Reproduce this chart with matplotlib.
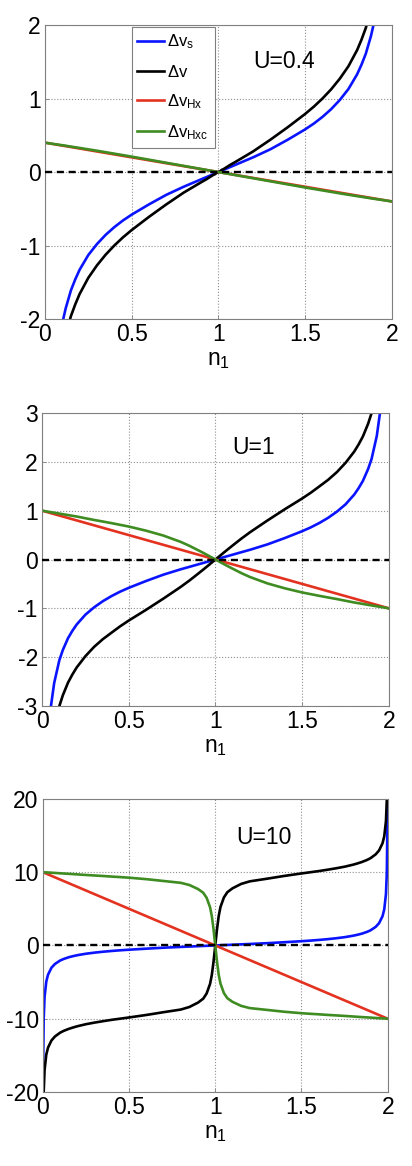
import matplotlib
matplotlib.use("Agg")
import matplotlib.pyplot as plt

plt.rcParams['font.family'] = ['Liberation Sans', 'DejaVu Sans']
plt.rcParams['mathtext.fontset'] = 'custom'
plt.rcParams['mathtext.rm'] = 'Liberation Sans'
plt.rcParams['mathtext.it'] = 'Liberation Sans'

# occupation of site 1 (same grid for every curve)
n1 = [0.001, 0.002, 0.005, 0.01, 0.02, 0.03, 0.05, 0.07, 0.1, 0.12, 0.15, 0.175, 0.2, 0.25, 0.3,
      0.35, 0.4, 0.45, 0.5, 0.6, 0.7, 0.8, 0.85, 0.9, 0.93, 0.95, 0.97, 0.98, 0.99, 0.995, 1.0,
      1.005, 1.01, 1.02, 1.03, 1.05, 1.07, 1.1, 1.15, 1.2, 1.3, 1.4, 1.5, 1.55, 1.6, 1.65, 1.7,
      1.75, 1.8, 1.825, 1.85, 1.88, 1.9, 1.93, 1.95, 1.97, 1.98, 1.99, 1.995, 1.998, 1.999]

# Kohn-Sham potential difference (does not depend on U)
dv_s = [-22.34, -15.79, -9.96, -7.02, -4.92, -3.99, -3.04, -2.53, -2.06, -1.853, -1.61, -1.46, -1.33, -1.13, -0.98,
        -0.855, -0.75, -0.659, -0.58, -0.44, -0.31, -0.20, -0.15, -0.10, -0.07, -0.05, -0.03, -0.02, -0.01, -0.005, 0.0,
        0.005, 0.01, 0.02, 0.03, 0.05, 0.07, 0.10, 0.15, 0.20, 0.31, 0.44, 0.58, 0.659, 0.75, 0.855, 0.98,
        1.13, 1.33, 1.46, 1.61, 1.853, 2.06, 2.53, 3.04, 3.99, 4.92, 7.02, 9.96, 15.79, 22.34]

# U = 0.4
dv_04 = [-22.74, -16.19, -10.36, -7.42, -5.31, -4.38, -3.42, -2.91, -2.43, -2.21, -1.96, -1.80, -1.66, -1.44, -1.27,
         -1.125, -1.00, -0.889, -0.79, -0.61, -0.44, -0.28, -0.21, -0.14, -0.10, -0.07, -0.04, -0.03, -0.01, -0.007, 0.0,
         0.007, 0.01, 0.03, 0.04, 0.07, 0.10, 0.14, 0.21, 0.28, 0.44, 0.61, 0.79, 0.889, 1.00, 1.125, 1.27,
         1.44, 1.66, 1.80, 1.96, 2.21, 2.43, 2.91, 3.42, 4.38, 5.31, 7.42, 10.36, 16.19, 22.74]
dvhxc_04 = [0.4, 0.4, 0.398, 0.396, 0.393, 0.389, 0.382, 0.375, 0.365, 0.358, 0.346, 0.337, 0.328, 0.309, 0.29,
            0.27, 0.25, 0.23, 0.21, 0.168, 0.126, 0.084, 0.063, 0.042, 0.029, 0.021, 0.013, 0.008, 0.004, 0.002, 0.0,
            -0.002, -0.004, -0.008, -0.013, -0.021, -0.029, -0.042, -0.063, -0.084, -0.126, -0.168, -0.21, -0.23, -0.25, -0.27, -0.29,
            -0.309, -0.328, -0.337, -0.346, -0.358, -0.365, -0.375, -0.382, -0.389, -0.393, -0.396, -0.398, -0.4, -0.4]

# U = 1
dv_1 = [-23.3, -16.8, -10.96, -8.01, -5.91, -4.97, -4.01, -3.49, -3.0, -2.78, -2.52, -2.355, -2.21, -1.98, -1.79,
        -1.633, -1.50, -1.369, -1.25, -1.03, -0.80, -0.56, -0.43, -0.29, -0.205, -0.147, -0.088, -0.059, -0.029, -0.015, 0.0,
        0.015, 0.029, 0.059, 0.088, 0.147, 0.205, 0.29, 0.43, 0.56, 0.80, 1.03, 1.25, 1.369, 1.50, 1.633, 1.79,
        1.98, 2.21, 2.355, 2.52, 2.78, 3.0, 3.49, 4.01, 4.97, 5.91, 8.01, 10.96, 16.8, 23.3]
dvhxc_1 = [1.0, 1.0, 0.997, 0.994, 0.988, 0.982, 0.97, 0.958, 0.94, 0.928, 0.91, 0.895, 0.88, 0.845, 0.81,
           0.778, 0.745, 0.71, 0.675, 0.59, 0.49, 0.36, 0.28, 0.19, 0.135, 0.097, 0.058, 0.039, 0.019, 0.01, 0.0,
           -0.01, -0.019, -0.039, -0.058, -0.097, -0.135, -0.19, -0.28, -0.36, -0.49, -0.59, -0.675, -0.71, -0.745, -0.778, -0.81,
           -0.845, -0.88, -0.895, -0.91, -0.928, -0.94, -0.958, -0.97, -0.982, -0.988, -0.994, -0.997, -1.0, -1.0]

# U = 10
dv_10 = [-32.3, -25.8, -19.95, -17.0, -14.89, -13.95, -12.97, -12.43, -11.91, -11.67, -11.39, -11.2, -11.03, -10.75, -10.53,
         -10.335, -10.15, -9.99, -9.83, -9.49, -9.11, -8.75, -8.40, -7.80, -7.27, -6.55, -5.23, -4.02, -2.21, -1.1, 0.0,
         1.1, 2.21, 4.02, 5.23, 6.55, 7.27, 7.80, 8.40, 8.75, 9.11, 9.49, 9.83, 9.99, 10.15, 10.335, 10.53,
         10.75, 11.03, 11.2, 11.39, 11.67, 11.91, 12.43, 12.97, 13.95, 14.89, 17.0, 19.95, 25.8, 32.3]
dvhxc_10 = [10.0, 10.0, 9.99, 9.98, 9.97, 9.96, 9.93, 9.9, 9.85, 9.82, 9.78, 9.74, 9.7, 9.62, 9.55,
            9.48, 9.4, 9.33, 9.25, 9.05, 8.8, 8.55, 8.25, 7.7, 7.2, 6.5, 5.2, 4.0, 2.2, 1.1, 0.0,
            -1.1, -2.2, -4.0, -5.2, -6.5, -7.2, -7.7, -8.25, -8.55, -8.8, -9.05, -9.25, -9.33, -9.4, -9.48, -9.55,
            -9.62, -9.7, -9.74, -9.78, -9.82, -9.85, -9.9, -9.93, -9.96, -9.97, -9.98, -9.99, -10.0, -10.0]

# Hartree-exchange: straight line between the end points
hx_x = [0, 2]
hx_04 = [0.4, -0.4]
hx_1 = [1, -1]
hx_10 = [10, -10]

U_labels = ['U=0.4', 'U=1', 'U=10']
ylims = [(-2, 2), (-3, 3), (-20, 20)]
yticks = [[-2, -1, 0, 1, 2], [-3, -2, -1, 0, 1, 2, 3], [-20, -10, 0, 10, 20]]
xticks = [0, 0.5, 1, 1.5, 2]
xticklabels = ['0', '0.5', '1', '1.5', '2']

c_blue = '#0a14ff'
c_black = 'k'
c_red = '#e3321f'
c_green = '#3f8c22'

fig = plt.figure(figsize=(4.12, 11.66), dpi=100)
rects = [[0.109, 0.7264, 0.842, 0.2521],
         [0.102, 0.3945, 0.842, 0.2513],
         [0.104, 0.0635, 0.837, 0.2513]]
pos_text = [(1.38, 1.5), (1.22, 2.3), (1.28, 14.8)]

data = [(dv_04, hx_04, dvhxc_04), (dv_1, hx_1, dvhxc_1), (dv_10, hx_10, dvhxc_10)]

for i in range(3):
    ax = fig.add_axes(rects[i])
    dv, hx, hxc = data[i]
    ax.plot(n1, dv_s, color=c_blue, lw=1.9, label=r'$\Delta$v$_\mathrm{s}$')
    ax.plot(n1, dv, color=c_black, lw=1.9, label=r'$\Delta$v')
    ax.plot(hx_x, hx, color=c_red, lw=1.9, label=r'$\Delta$v$_\mathrm{Hx}$')
    ax.plot(n1, hxc, color=c_green, lw=1.9, label=r'$\Delta$v$_\mathrm{Hxc}$')
    ax.axhline(0, color='k', ls='--', lw=1.7, dashes=(3, 2), zorder=5)

    ax.set_xlim(0, 2)
    ax.set_ylim(*ylims[i])
    ax.set_xticks(xticks)
    ax.set_xticklabels(xticklabels)
    ax.set_yticks(yticks[i])
    ax.set_yticklabels([str(t) for t in yticks[i]])
    ax.grid(True, ls=':', color='#909090', lw=0.8)
    ax.tick_params(direction='in', length=3, width=0.6, colors='#808080',
                   labelcolor='k', labelsize=16.5, pad=3)
    for sp in ax.spines.values():
        sp.set_color('#808080')
        sp.set_linewidth(0.8)
    ax.set_xlabel(r'n$_1$', fontsize=16.5, labelpad=1)
    ax.text(pos_text[i][0], pos_text[i][1], U_labels[i], fontsize=16.5,
            ha='center', va='center')

    if i == 0:
        leg = ax.legend(loc='upper left', bbox_to_anchor=(0.25, 0.995), fontsize=12,
                        handlelength=1.6, handletextpad=0.2, labelspacing=0.75,
                        borderpad=0.35, borderaxespad=0, fancybox=False, framealpha=1)
        leg.get_frame().set_edgecolor('#808080')
        leg.get_frame().set_linewidth(0.8)

fig.savefig('out.png', dpi=100)
